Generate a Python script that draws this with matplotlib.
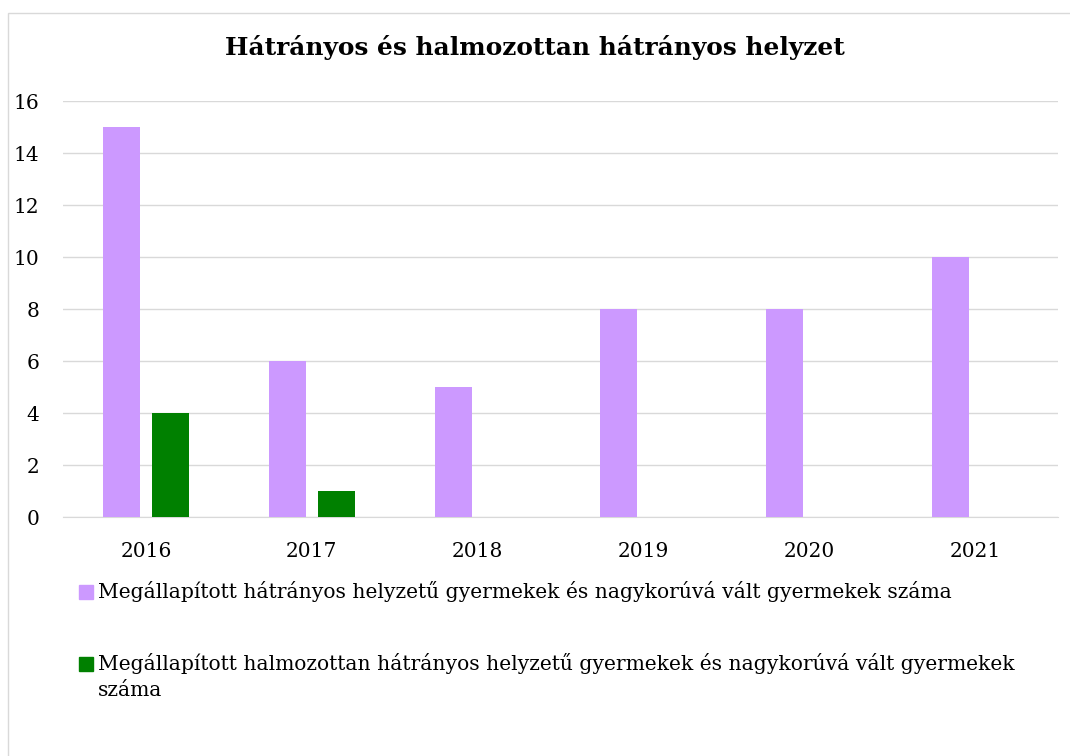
import matplotlib.pyplot as plt
import numpy as np
from matplotlib.patches import Rectangle

years = ["2016", "2017", "2018", "2019", "2020", "2021"]
hatranyos = [15, 6, 5, 8, 8, 10]
halmozottan = [4, 1, 0, 0, 0, 0]

label_h = "Megállapított hátrányos helyzetű gyermekek és nagykorúvá vált gyermekek száma"
label_hh = ["Megállapított halmozottan hátrányos helyzetű gyermekek és nagykorúvá vált gyermekek",
            "száma"]
title = "Hátrányos és halmozottan hátrányos helyzet"

col_h = "#cc99ff"
col_hh = "#008000"

plt.rcParams['font.family'] = ['DejaVu Serif']

fig = plt.figure(figsize=(10.7, 7.56), dpi=100)
ax = fig.add_axes([0.0589, 0.3161, 0.930, 0.5503])

x = np.arange(len(years))
w = 0.223
off = 0.148
ax.bar(x - off, hatranyos, w, color=col_h, zorder=3)
ax.bar(x + off, halmozottan, w, color=col_hh, zorder=3)

ax.set_xlim(-0.5, len(years) - 0.5)
ax.set_ylim(0, 16)
ax.set_yticks(range(0, 17, 2))
ax.set_xticks(x)
ax.set_xticklabels(years)
ax.tick_params(axis="x", length=0, pad=18, labelsize=14.5)
ax.tick_params(axis="y", length=0, pad=17, labelsize=14.5)
ax.grid(axis="y", color="#d9d9d9", linewidth=1, zorder=0)
for s in ["top", "right", "left"]:
    ax.spines[s].set_visible(False)
ax.spines["bottom"].set_color("#d9d9d9")

fig.text(0.5, 0.937, title, ha="center", va="center", fontsize=17.9, fontweight="bold")

# legend, laid out by hand so the swatch sits on the first line of a wrapped label
W, H = 1070, 756
def swatch(cy, color):
    fig.add_artist(Rectangle((79 / W, 1 - (cy + 7) / H), 14 / W, 14 / H,
                             transform=fig.transFigure, color=color))

swatch(592, col_h)
fig.text(98 / W, 1 - 592 / H, label_h, ha="left", va="center", fontsize=14.6)
swatch(664, col_hh)
fig.text(98 / W, 1 - 664 / H, label_hh[0], ha="left", va="center", fontsize=14.6)
fig.text(98 / W, 1 - 690 / H, label_hh[1], ha="left", va="center", fontsize=14.6)

# outer chart frame
fig.add_artist(Rectangle((0.0071, -0.1), 1.2, 1.083, transform=fig.transFigure,
                         fill=False, edgecolor="#d9d9d9", linewidth=1))

fig.savefig("out.png", dpi=100)
